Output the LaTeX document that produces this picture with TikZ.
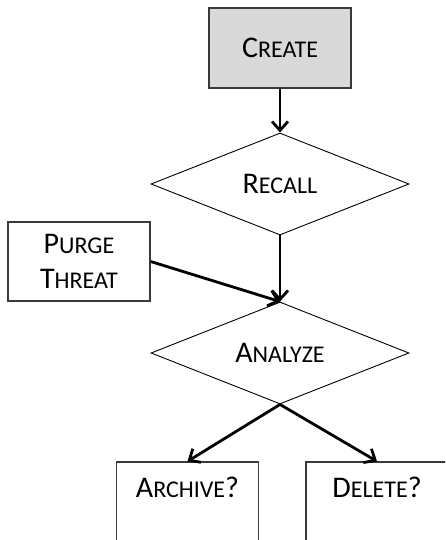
\documentclass[tikz,border=0pt]{standalone}
\usepackage{fontspec}
\setmainfont{Carlito}
\usetikzlibrary{shapes.geometric,arrows.meta}
\newcommand\bigf{\fontsize{30}{35}\selectfont}
\newcommand\smc[2]{#1{\fontsize{24}{35}\selectfont #2}}
\definecolor{boxgray}{HTML}{D9D9D9}
\definecolor{edge}{HTML}{3A3A3A}
\tikzset{
  box/.style={draw=edge, line width=1.3pt, minimum width=142pt, minimum height=80pt, inner sep=0pt, font=\bigf, align=center},
  decision/.style={diamond, draw=black, line width=0.9pt, minimum width=258pt, minimum height=102pt, aspect=2.5, inner sep=0pt, font=\bigf},
  flow/.style={line width=2.8pt, -{Straight Barb[length=9pt,width=16pt]}}
}
\begin{document}
\begin{tikzpicture}[x=1pt,y=-1pt]
\useasboundingbox (0,0) rectangle (445,540);
\begin{scope}
\clip (0,0) rectangle (445,540);
\node[box, fill=boxgray] (create) at (280,48) {\smc{C}{REATE}};
\node[decision] (recall) at (280,184) {\smc{R}{ECALL}};
\node[box, minimum height=79pt] (purge) at (79,261.5) {\smc{P}{URGE}\\\smc{T}{HREAT}};
\node[decision] (analyze) at (280,353) {\smc{A}{NALYZE}};
\node[box, text height=20pt, text depth=30pt] (archive) at (187.5,502) {\smc{A}{RCHIVE}?};
\node[box, text height=20pt, text depth=30pt] (delete) at (377,502) {\smc{D}{ELETE}?};
\end{scope}
\draw[flow] (create.south) -- (recall.north);
\draw[flow] (recall.south) -- (analyze.north);
\draw[flow] (purge.east) -- (analyze.north);
\draw[flow] (analyze.south) -- (archive.north);
\draw[flow] (analyze.south) -- (delete.north);
\end{tikzpicture}
\end{document}
